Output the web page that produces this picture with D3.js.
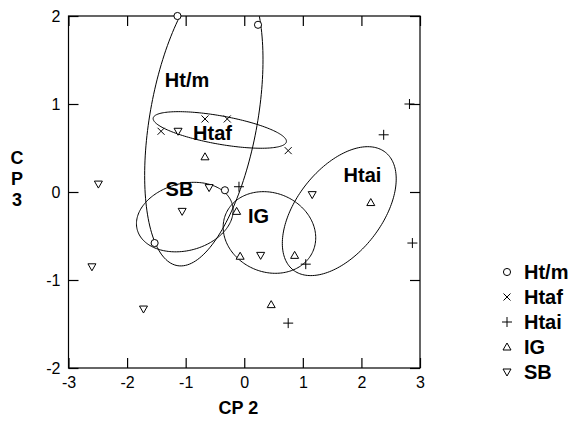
<!DOCTYPE html>
<html>
<head>
<meta charset="utf-8">
<script src="https://cdn.jsdelivr.net/npm/d3@7"></script>
<style>
  body { margin: 0; background: #fff; }
  text { font-family: "Liberation Sans", Arial, sans-serif; fill: #000; }
</style>
</head>
<body>
<svg id="chart" width="575" height="425"></svg>
<script>
(function() {

  // Groups
  var groups = ['Ht/m', 'Htaf', 'Htai', 'IG', 'SB'];

  // Scores (CP 2, CP 3) per group
  var htmX  = [-1.14, 0.235, -0.33, -1.53];
  var htmY  = [2.0, 1.90, 0.02, -0.58];
  var htafX = [-1.42, -0.67, -0.29, 0.75];
  var htafY = [0.69, 0.83, 0.83, 0.47];
  var htaiX = [-0.09, 2.82, 2.38, 2.87, 1.05, 0.75];
  var htaiY = [0.06, 1.0, 0.65, -0.58, -0.82, -1.49];
  var igX   = [-0.67, -0.13, -0.07, 2.16, 0.86, 0.46];
  var igY   = [0.40, -0.22, -0.73, -0.12, -0.72, -1.28];
  var sbX   = [-1.13, -2.49, -0.60, -1.06, -2.60, -1.72, 1.16, 0.28];
  var sbY   = [0.69, 0.09, 0.05, -0.22, -0.85, -1.33, -0.03, -0.72];

  // Ellipses: centre, half extents, correlation
  var ellCx  = [-0.69, -0.4175, 1.622, 0.43, -1.015];
  var ellCy  = [0.845, 0.705, -0.2175, -0.46, -0.285];
  var ellSx  = [1.01, 1.1375, 0.972, 0.79, 0.825];
  var ellSy  = [1.685, 0.208, 0.7325, 0.464, 0.395];
  var ellRho = [0.39, -0.62, 0.5, -0.13, 0.19];

  // Axes
  var xTicks = [-3, -2, -1, 0, 1, 2, 3];
  var yTicks = [-2, -1, 0, 1, 2];

  // Design Variables
  var margin = {top: 16, right: 155, bottom: 57, left: 68.5};
  var width = 575 - margin.left - margin.right;
  var height = 425 - margin.top - margin.bottom;
  var tickLen = 10;

  // Label anchors for ellipses (data units)
  var labelPos = [[-1.355, 1.193], [-0.873, 0.591], [1.696, 0.114], [0.065, -0.352], [-1.343, -0.045]];

  var x = d3.scaleLinear().domain([-3, 3]).range([0, width]);
  var y = d3.scaleLinear().domain([-2, 2]).range([height, 0]);

  var svg = d3.select('#chart');
  var g = svg.append('g')
      .attr('transform', 'translate(' + margin.left + ',' + margin.top + ')');

  g.append('clipPath').attr('id', 'plot-clip')
    .append('rect').attr('width', width).attr('height', height);

  // Ellipses
  var ellLine = d3.line().x(function(d) { return x(d[0]); }).y(function(d) { return y(d[1]); })
      .curve(d3.curveLinearClosed);

  groups.forEach(function(name, i) {
    var pts = d3.range(0, 2 * Math.PI, Math.PI / 90).map(function(t) {
      var c = Math.cos(t), s = Math.sin(t);
      var r = ellRho[i];
      return [ellCx[i] + ellSx[i] * c, ellCy[i] + ellSy[i] * (r * c + Math.sqrt(1 - r * r) * s)];
    });
    g.append('path')
      .attr('d', ellLine(pts))
      .attr('clip-path', 'url(#plot-clip)')
      .attr('fill', 'none')
      .attr('stroke', '#000')
      .attr('stroke-width', 1);
  });

  // Ellipse labels
  g.selectAll('.ell-label')
    .data(groups)
    .enter()
    .append('text')
    .attr('class', 'ell-label')
    .attr('x', function(d, i) { return x(labelPos[i][0]); })
    .attr('y', function(d, i) { return y(labelPos[i][1]); })
    .attr('font-size', 20)
    .attr('font-weight', 'bold')
    .text(function(d) { return d; });

  // Marker shapes
  function markerPath(type) {
    if (type === 'Ht/m') return d3.symbol().type(d3.symbolCircle).size(40)();
    if (type === 'Htaf') return 'M-3.5,-3.5L3.5,3.5M-3.5,3.5L3.5,-3.5';
    if (type === 'Htai') return 'M-5,0L5,0M0,-5L0,5';
    if (type === 'IG') return 'M0,-4L4,3L-4,3Z';
    return 'M0,4L4,-3L-4,-3Z';
  }

  var series = [[htmX, htmY], [htafX, htafY], [htaiX, htaiY], [igX, igY], [sbX, sbY]];

  // Frame
  g.append('rect')
    .attr('width', width).attr('height', height)
    .attr('fill', 'none').attr('stroke', '#000').attr('stroke-width', 1.2);

  // Axes with inner ticks
  var fmt = function(d) { return String(d); };
  g.append('g')
    .attr('transform', 'translate(0,' + height + ')')
    .call(d3.axisBottom(x).tickValues(xTicks).tickSize(-tickLen).tickPadding(9).tickFormat(fmt))
    .call(styleAxis);
  g.append('g')
    .call(d3.axisTop(x).tickValues(xTicks).tickSize(-tickLen).tickFormat(''))
    .call(styleAxis);
  g.append('g')
    .call(d3.axisLeft(y).tickValues(yTicks).tickSize(-tickLen).tickPadding(8).tickFormat(fmt))
    .call(styleAxis);
  g.append('g')
    .attr('transform', 'translate(' + width + ',0)')
    .call(d3.axisRight(y).tickValues(yTicks).tickSize(-tickLen).tickFormat(''))
    .call(styleAxis);

  function styleAxis(sel) {
    sel.select('.domain').remove();
    sel.selectAll('line').attr('stroke', '#000').attr('stroke-width', 1.2);
    sel.selectAll('text')
      .attr('font-size', 16)
      .attr('font-family', '"Liberation Sans", Arial, sans-serif')
      .attr('fill', '#000');
  }

  // Points
  series.forEach(function(s, i) {
    var pts = s[0].map(function(v, j) { return [v, s[1][j]]; });
    g.selectAll('.pt-' + i)
      .data(pts)
      .enter()
      .append('path')
      .attr('class', 'pt-' + i)
      .attr('transform', function(d) { return 'translate(' + x(d[0]) + ',' + y(d[1]) + ')'; })
      .attr('d', markerPath(groups[i]))
      .attr('fill', groups[i] === 'Htaf' || groups[i] === 'Htai' ? 'none' : '#fff')
      .attr('stroke', '#000')
      .attr('stroke-width', 1);
  });

  // Axis titles
  svg.append('text')
    .attr('x', margin.left + x(-0.1))
    .attr('y', 414)
    .attr('text-anchor', 'middle')
    .attr('font-size', 18)
    .attr('font-weight', 'bold')
    .text('CP 2');

  svg.selectAll('.ytitle')
    .data(['C', 'P', '3'])
    .enter()
    .append('text')
    .attr('class', 'ytitle')
    .attr('x', 17)
    .attr('y', function(d, i) { return 164 + i * 21; })
    .attr('text-anchor', 'middle')
    .attr('font-size', 18)
    .attr('font-weight', 'bold')
    .text(function(d) { return d; });

  // Legend
  var legend = svg.append('g').attr('transform', 'translate(507,272)');
  var item = legend.selectAll('.legend-item')
      .data(groups)
      .enter()
      .append('g')
      .attr('class', 'legend-item')
      .attr('transform', function(d, i) { return 'translate(0,' + i * 25 + ')'; });
  item.append('path')
    .attr('d', function(d) { return markerPath(d); })
    .attr('fill', 'none')
    .attr('stroke', '#000')
    .attr('stroke-width', 1);
  item.append('text')
    .attr('x', 17)
    .attr('dy', '0.35em')
    .attr('font-size', 20)
    .attr('font-weight', 'bold')
    .text(function(d) { return d; });

})();
</script>
</body>
</html>
